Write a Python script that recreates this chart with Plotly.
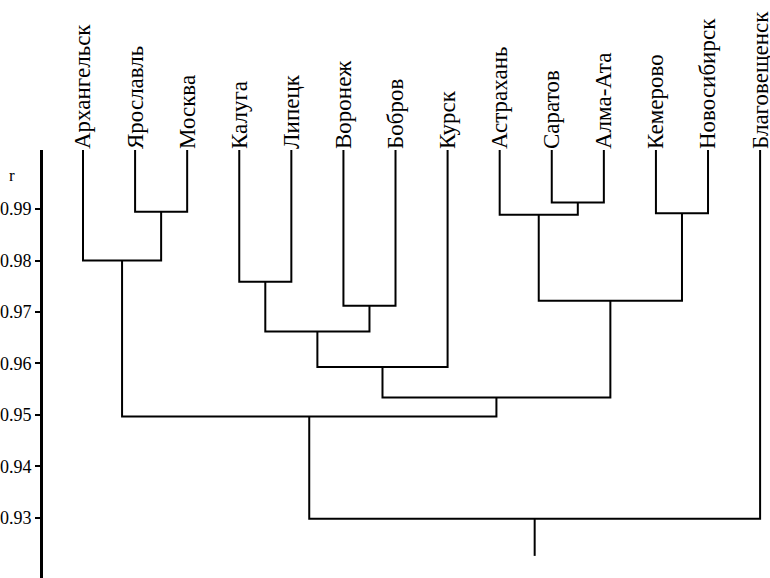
import plotly.graph_objects as go

# ---- data ----
leaves = ["Архангельск", "Ярославль", "Москва", "Калуга", "Липецк", "Воронеж",
          "Бобров", "Курск", "Астрахань", "Саратов", "Алма-Ата", "Кемерово",
          "Новосибирск", "Благовещенск"]
# merges: (node a, node b, correlation r at which they join); new node id = len(leaves)+k
merge_a = [1, 9, 8, 11, 0, 3, 5, 16, 19, 22, 23, 18, 25]
merge_b = [2, 10, 15, 12, 14, 4, 6, 17, 20, 7, 21, 24, 13]
merge_r = [0.9895, 0.9913, 0.9889, 0.9892, 0.980, 0.9759, 0.9712, 0.9722,
           0.9662, 0.9593, 0.9534, 0.9497, 0.9298]
r_ticks = [0.93, 0.94, 0.95, 0.96, 0.97, 0.98, 0.99]

# ---- layout constants ----
Y_TOP = 1.0015
Y_BOT = 0.9183
ROOT_TAIL = 0.0072
LINE = dict(color="black", width=2)

W, H = 770, 578
ML, MT = 43, 150

n = len(leaves)
node_x = {i: float(i) for i in range(n)}
node_y = {i: Y_TOP for i in range(n)}

xs, ys = [], []
for k, (a, b, r) in enumerate(zip(merge_a, merge_b, merge_r)):
    xa, xb = node_x[a], node_x[b]
    xs += [xa, xa, xb, xb, None]
    ys += [node_y[a], r, r, node_y[b], None]
    node_x[n + k] = (xa + xb) / 2
    node_y[n + k] = r

root = n + len(merge_r) - 1
xs += [node_x[root], node_x[root], None]
ys += [node_y[root], node_y[root] - ROOT_TAIL, None]

fig = go.Figure()
fig.add_trace(go.Scatter(x=xs, y=ys, mode="lines", line=LINE,
                         hoverinfo="skip", showlegend=False, cliponaxis=False))

serif = "Liberation Serif, Times New Roman, serif"
fig.update_layout(
    width=W, height=H,
    margin=dict(l=ML, r=0, t=MT, b=0, autoexpand=False),
    paper_bgcolor="white", plot_bgcolor="white",
    font=dict(family=serif, color="black"),
    xaxis=dict(range=[-0.768, 13.19], side="top",
               tickmode="array", tickvals=list(range(n)), ticktext=leaves,
               tickangle=-90, tickfont=dict(size=23, family=serif),
               ticklabeloverflow="allow",
               showgrid=False, zeroline=False, showline=False,
               ticks="", fixedrange=True, automargin=False),
    yaxis=dict(range=[Y_BOT, Y_TOP],
               tickmode="array", tickvals=r_ticks,
               ticktext=[f"{v:.2f}" for v in r_ticks],
               tickfont=dict(size=18, family=serif),
               ticks="outside", ticklen=5, tickwidth=1.5, tickcolor="black",
               showline=True, linewidth=3, linecolor="black",
               showgrid=False, zeroline=False, fixedrange=True, automargin=False),
    annotations=[dict(text="r", xref="paper", yref="paper",
                      x=(12 - 43) / (770 - 43), y=(578 - 175) / (578 - 150),
                      xanchor="center", yanchor="middle",
                      showarrow=False, font=dict(size=17, family=serif))],
)

fig.write_html("out.html", config={"displayModeBar": False},
               post_script="document.body.style.margin='0';"
                           "document.body.style.overflow='hidden';")
